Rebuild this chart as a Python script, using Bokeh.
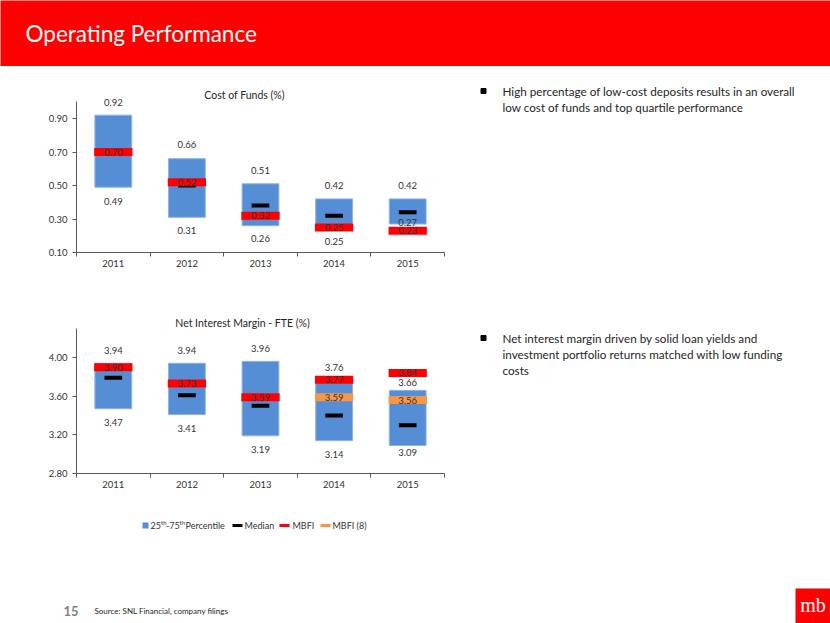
from bokeh.plotting import figure
from bokeh.layouts import column, row
from bokeh.models import Range1d, FixedTicker, PrintfTickFormatter
from bokeh.core.properties import value
from bokeh.embed import file_html
from bokeh.resources import INLINE

# ---------------- data ----------------
years = ["2011", "2012", "2013", "2014", "2015"]

cof_low = [0.49, 0.31, 0.26, 0.25, 0.27]
cof_high = [0.92, 0.66, 0.51, 0.42, 0.42]
cof_median = [0.70, 0.50, 0.38, 0.32, 0.34]
cof_mbfi = [0.70, 0.52, 0.32, 0.25, 0.23]
cof_ticks = [0.10, 0.30, 0.50, 0.70, 0.90]

nim_low = [3.47, 3.41, 3.19, 3.14, 3.09]
nim_high = [3.94, 3.94, 3.96, 3.76, 3.66]
nim_median = [3.79, 3.61, 3.50, 3.40, 3.30]
nim_mbfi = [3.90, 3.73, 3.59, 3.77, 3.84]
nim_mbfi8_years = ["2014", "2015"]
nim_mbfi8 = [3.59, 3.56]
nim_ticks = [2.80, 3.20, 3.60, 4.00]

bullet1 = ["High percentage of low-cost deposits results in an overall",
           "low cost of funds and top quartile performance"]
bullet2 = ["Net interest margin driven by solid loan yields and",
           "investment portfolio returns matched with low funding",
           "costs"]

FONT = "Lato"
BLUE = "#558ED5"
RED = "#FF0000"
ORANGE = "#F79646"
LBL = "#333333"
AXC = "#595959"

LEFT_B = 76   # shared frame borders of the left column (aligned by bokeh)
RIGHT_B = 6
COL_W = 450


def blank(w, h, bg="white", xr=None, **kw):
    xr = xr or (0, w)
    p = figure(width=w, height=h, x_range=Range1d(*xr), y_range=Range1d(h, 0),
               x_axis_type=None, y_axis_type=None, output_backend="svg",
               toolbar_location=None, **kw)
    p.grid.visible = False
    p.outline_line_color = None
    p.background_fill_color = bg
    p.border_fill_color = bg
    return p


def chart(title, low, high, med, mbfi, ticks, ymin, ytop, ppu, h, bottom,
          title_dx, title_dy, hi_off, lo_off, extra_years=None, extra_vals=None):
    frame_h = h - bottom
    y_end = ymin + frame_h / ppu
    p = figure(width=COL_W, height=h, x_range=Range1d(0.5, 5.5),
               y_range=Range1d(ymin, y_end), output_backend="svg",
               toolbar_location=None, min_border_left=LEFT_B,
               min_border_right=RIGHT_B, min_border_top=0,
               min_border_bottom=bottom)
    p.grid.visible = False
    p.outline_line_color = None
    xs = [years.index(y) + 1 for y in years]

    xa = p.xaxis[0]
    xa.ticker = FixedTicker(ticks=xs, minor_ticks=[0.5 + i for i in range(6)])
    xa.major_label_overrides = {x: y for x, y in zip(xs, years)}
    xa.major_tick_out = 0
    xa.major_tick_in = 0
    xa.minor_tick_out = 4
    xa.minor_tick_in = 0
    xa.minor_tick_line_color = AXC
    xa.axis_line_color = AXC
    xa.major_label_standoff = 3
    xa.major_label_text_font = FONT
    xa.major_label_text_font_size = "9.5px"
    xa.major_label_text_color = LBL

    ya = p.yaxis[0]
    ya.ticker = FixedTicker(ticks=ticks)
    ya.formatter = PrintfTickFormatter(format="%.2f")
    ya.bounds = (ymin, ytop)
    ya.major_tick_out = 4
    ya.major_tick_in = 0
    ya.minor_tick_out = 0
    ya.minor_tick_in = 0
    ya.major_tick_line_color = AXC
    ya.axis_line_color = AXC
    ya.major_label_standoff = 5
    ya.major_label_text_font = FONT
    ya.major_label_text_font_size = "9.5px"
    ya.major_label_text_color = LBL

    p.vbar(x=xs, width=0.5, bottom=low, top=high, fill_color=BLUE,
           line_color="#8DB4E2", line_width=1)
    p.rect(x=xs, y=med, width=0.24, height=4, height_units="screen",
           fill_color="black", line_color=None)
    p.rect(x=xs, y=mbfi, width=0.52, height=8, height_units="screen",
           fill_color=RED, line_color=None)
    if extra_years:
        ex = [years.index(y) + 1 for y in extra_years]
        p.rect(x=ex, y=extra_vals, width=0.52, height=8, height_units="screen",
               fill_color=ORANGE, line_color=None)

    common = dict(text_font=value(FONT), text_font_size="9.5px",
                  text_align="center", text_baseline="middle", text_color=LBL)
    p.text(x=xs, y=high, text=[f"{v:.2f}" for v in high], y_offset=hi_off, **common)
    p.text(x=xs, y=low, text=[f"{v:.2f}" for v in low], y_offset=lo_off, **common)
    p.text(x=xs, y=mbfi, text=[f"{v:.2f}" for v in mbfi], **common)
    if extra_years:
        p.text(x=ex, y=extra_vals, text=[f"{v:.2f}" for v in extra_vals], **common)

    p.text(x=[0.5], y=[y_end], text=[title], x_offset=title_dx, y_offset=title_dy,
           text_font=value(FONT), text_font_size="10.5px", text_align="center",
           text_baseline="middle", text_color="#262626")
    return p


# Cost of funds chart (page y 66..286)
c1 = chart("Cost of Funds (%)", cof_low, cof_high, cof_median, cof_mbfi,
           cof_ticks, 0.10, 1.00, 167.5, 220, 34, title_dx=168, title_dy=28,
           hi_off=[-13, -14, -13, -13, -13], lo_off=[14, 13, 13, 14, -2])

# NIM chart (page y 286..500)
c2 = chart("Net Interest Margin - FTE (%)", nim_low, nim_high, nim_median, nim_mbfi,
           nim_ticks, 2.80, 4.30, 96.67, 214, 27, title_dx=166, title_dy=36,
           hi_off=[-13, -13, -13, -13, -8], lo_off=[14, 14, 14, 14, 7],
           extra_years=nim_mbfi8_years, extra_vals=nim_mbfi8)

# legend (page y 500..545); data x = page x
lg = blank(COL_W, 45, xr=(LEFT_B, COL_W - RIGHT_B), min_border_left=LEFT_B,
           min_border_right=RIGHT_B, min_border_top=0, min_border_bottom=0)
ly = 25
lfont = dict(text_font=value(FONT), text_color=LBL, text_baseline="middle",
             text_align="left")
lg.rect(x=[145], y=[ly], width=6, height=6, fill_color=BLUE, line_color=None)
lg.text(x=[150], y=[ly], text=["25"], text_font_size="9px", **lfont)
lg.text(x=[160.5], y=[ly - 3], text=["th"], text_font_size="6px", **lfont)
lg.text(x=[165.5], y=[ly], text=["-75"], text_font_size="9px", **lfont)
lg.text(x=[179], y=[ly - 3], text=["th"], text_font_size="6px", **lfont)
lg.text(x=[185], y=[ly], text=["Percentile"], text_font_size="9px", **lfont)
lg.rect(x=[237], y=[ly], width=10, height=3, fill_color="black", line_color=None)
lg.text(x=[244], y=[ly], text=["Median"], text_font_size="9px", **lfont)
lg.rect(x=[284], y=[ly], width=10, height=3, fill_color=RED, line_color=None)
lg.text(x=[292], y=[ly], text=["MBFI"], text_font_size="9px", **lfont)
lg.rect(x=[325], y=[ly], width=10, height=3, fill_color=ORANGE, line_color=None)
lg.text(x=[332], y=[ly], text=["MBFI (8)"], text_font_size="9px", **lfont)

left_col = column(c1, c2, lg, spacing=0)

# right text area (page x 450..830, y 66..545)
rt = blank(380, 479, min_border=0)
bfont = dict(text_font=value(FONT), text_font_size="11.7px", text_color="#262626",
             text_baseline="middle", text_align="left")
rt.scatter(x=[33, 33], y=[24.5, 271.5], marker="square", size=5, color="black")
rt.text(x=[52] * len(bullet1), y=[24.7 + 16 * i for i in range(len(bullet1))],
        text=bullet1, **bfont)
rt.text(x=[52] * len(bullet2), y=[271.3 + 16 * i for i in range(len(bullet2))],
        text=bullet2, **bfont)

mid = row(left_col, rt, spacing=0)

# header (page y 0..66)
hd = blank(830, 66, bg=RED, min_border=0)
hd.text(x=[25], y=[33], text=["Operating Performance"], text_font=value(FONT),
        text_font_size="22.5px", text_color="white", text_baseline="middle")

# footer (page y 545..623)
ft = blank(830, 78, min_border=0)
ft.text(x=[63], y=[65], text=["15"], text_font=value(FONT), text_font_size="13px",
        text_color="#7F7F7F", text_baseline="middle", text_font_style="bold")
ft.text(x=[94], y=[65], text=["Source: SNL Financial, company filings"],
        text_font=value(FONT), text_font_size="8px", text_color="#262626",
        text_baseline="middle")
ft.rect(x=[812.5], y=[60.5], width=35, height=35, fill_color=RED, line_color=None)
ft.text(x=[812.5], y=[59], text=["mb"], text_font=value("Liberation Serif"),
        text_font_size="20px", text_color="white", text_align="center",
        text_baseline="middle")

layout = column(hd, mid, ft, spacing=0)

open("out.html", "w").write(file_html(layout, INLINE))
